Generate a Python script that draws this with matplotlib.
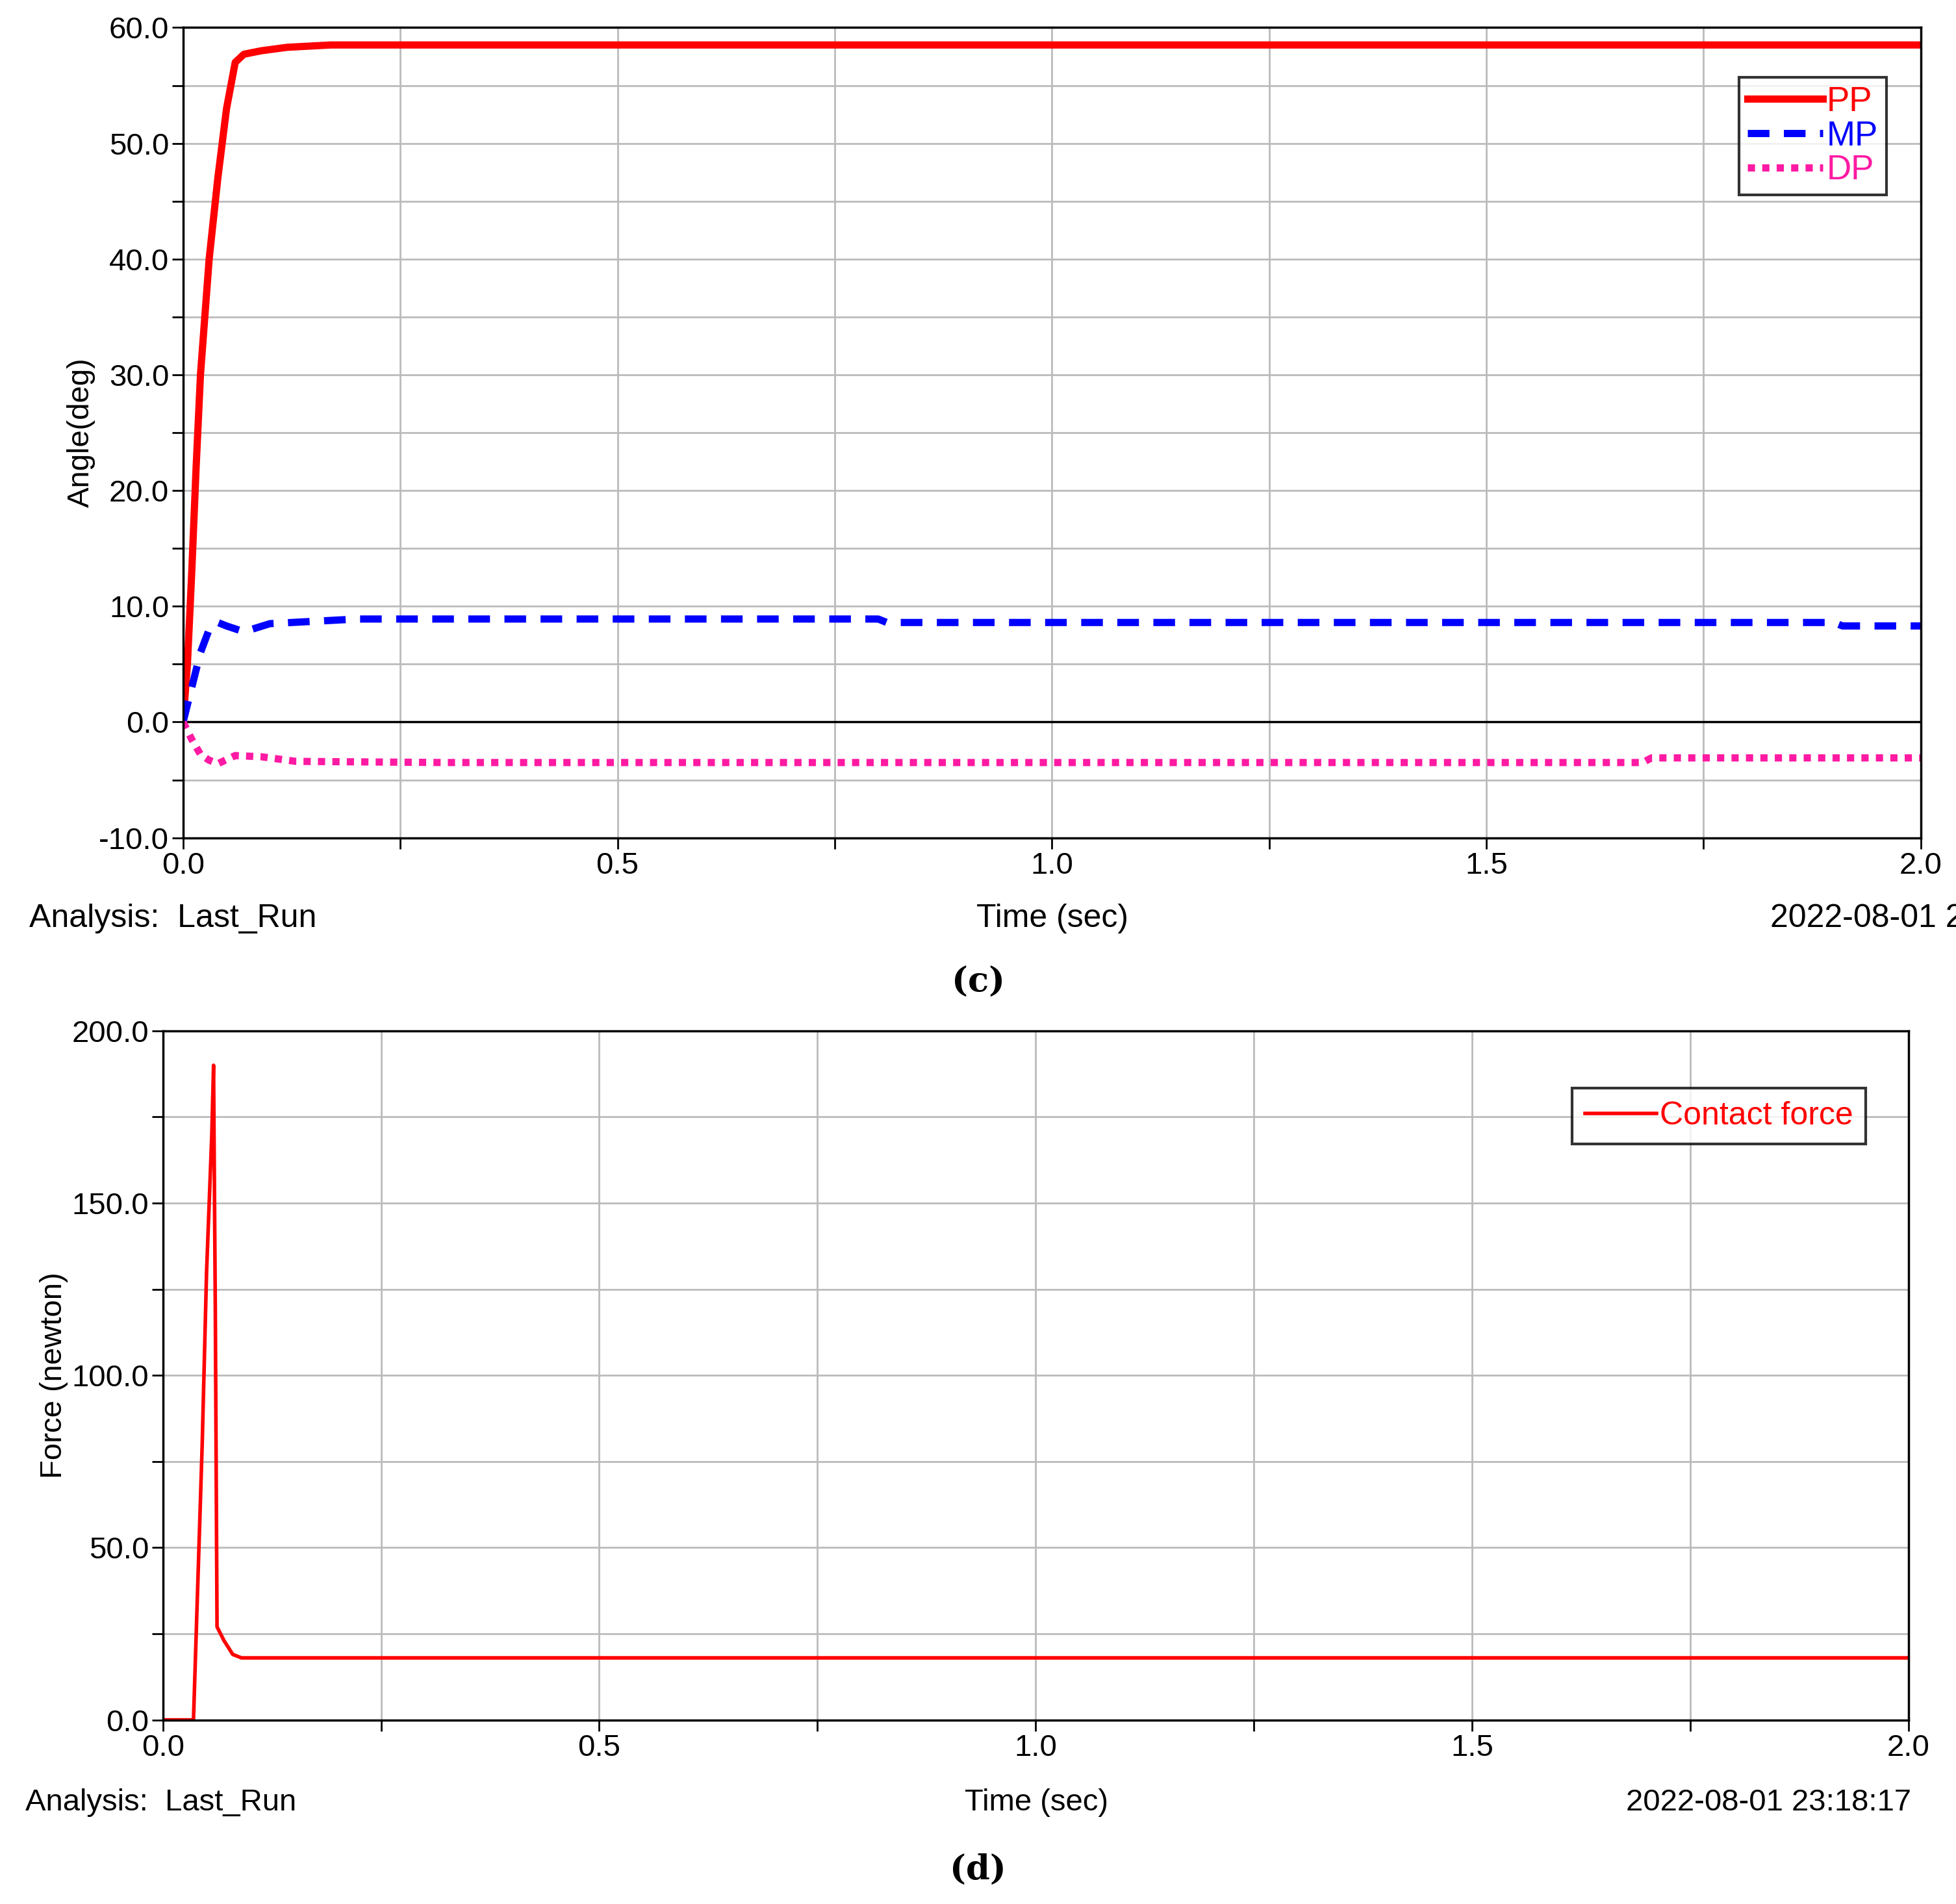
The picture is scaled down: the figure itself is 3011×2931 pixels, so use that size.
import matplotlib
matplotlib.use('Agg')
from matplotlib import pyplot as plt
from matplotlib.ticker import MultipleLocator

# angle curves (c)
pp_t = [0.0, 0.005, 0.01, 0.015, 0.02, 0.03, 0.04, 0.05, 0.06, 0.07, 0.09, 0.12, 0.17, 2.0]
pp_v = [0.0, 5.0, 13.0, 22.0, 30.0, 40.0, 47.0, 53.0, 57.0, 57.7, 58.0, 58.3, 58.5, 58.5]
mp_t = [0.0, 0.01, 0.02, 0.03, 0.04, 0.05, 0.07, 0.1, 0.2, 0.8, 0.81, 1.9, 1.91, 2.0]
mp_v = [0.0, 3.0, 6.0, 8.0, 8.6, 8.3, 7.8, 8.5, 8.9, 8.9, 8.6, 8.6, 8.3, 8.3]
dp_t = [0.0, 0.01, 0.02, 0.03, 0.04, 0.06, 0.09, 0.13, 0.3, 1.68, 1.69, 2.0]
dp_v = [0.0, -1.5, -2.8, -3.3, -3.6, -2.9, -3.0, -3.4, -3.5, -3.5, -3.1, -3.1]

# contact force (d)
cf_t = [0.0, 0.035, 0.04, 0.045, 0.05, 0.053, 0.056, 0.058, 0.06, 0.062, 0.07, 0.08, 0.09, 2.0]
cf_v = [0.0, 0.0, 40.0, 80.0, 130.0, 150.0, 170.0, 190.0, 120.0, 27.0, 23.0, 19.0, 18.0, 18.0]

FS = 34
plt.rcParams['font.family'] = ['Liberation Sans', 'DejaVu Sans']
fig = plt.figure(figsize=(30.11, 29.31), dpi=100)


def style(ax, ymaj, ymin):
    ax.set_xlim(0, 2.0)
    ax.xaxis.set_major_locator(MultipleLocator(0.5))
    ax.xaxis.set_minor_locator(MultipleLocator(0.25))
    ax.yaxis.set_major_locator(MultipleLocator(ymaj))
    ax.yaxis.set_minor_locator(MultipleLocator(ymin))
    ax.xaxis.set_major_formatter(matplotlib.ticker.FormatStrFormatter('%.1f'))
    ax.yaxis.set_major_formatter(matplotlib.ticker.FormatStrFormatter('%.1f'))
    ax.grid(True, which='both', color='#bbbbbb', lw=2)
    ax.tick_params(which='both', labelsize=FS, length=12, width=2, direction='out')
    for s in ax.spines.values():
        s.set_linewidth(2.5)
    ax.set_axisbelow(True)


ax1 = fig.add_axes([0.0936, 0.5600, 0.8884, 0.4255])
style(ax1, 10, 5)
ax1.set_ylim(-10, 60)
ax1.axhline(0, color='black', lw=2.5)
ax1.plot(pp_t, pp_v, color='red', lw=8, label='PP')
ax1.plot(mp_t, mp_v, color='blue', lw=8, ls=(0, (3, 2)), label='MP')
ax1.plot(dp_t, dp_v, color='#ff1aa3', lw=8, ls=(0, (1, 1)), label='DP')
ax1.set_ylabel('Angle(deg)', fontsize=FS)
leg = ax1.legend(loc='upper right', bbox_to_anchor=(0.99, 0.96), fontsize=FS + 4, frameon=True,
                 fancybox=False, edgecolor='black', handlelength=2.2, handletextpad=0.1,
                 labelspacing=0.05, borderpad=0.25)
leg.get_frame().set_linewidth(3)
for t, c in zip(leg.get_texts(), ['red', 'blue', '#ff1aa3']):
    t.set_color(c)
fig.text(0.015, 0.513, 'Analysis:  Last_Run', fontsize=FS + 2)
fig.text(0.538, 0.513, 'Time (sec)', fontsize=FS + 2, ha='center')
fig.text(0.905, 0.513, '2022-08-01 2', fontsize=FS + 2)
fig.text(0.5, 0.479, '(c)', fontsize=FS + 4, ha='center', weight='bold', family='DejaVu Serif')

ax2 = fig.add_axes([0.0833, 0.0967, 0.8923, 0.3619])
style(ax2, 50, 25)
ax2.set_ylim(0, 200)
ax2.plot(cf_t, cf_v, color='red', lw=4, label='Contact force')
ax2.set_ylabel('Force (newton)', fontsize=FS)
leg2 = ax2.legend(loc='upper right', bbox_to_anchor=(0.985, 0.94), fontsize=FS + 2, frameon=True,
                  fancybox=False, edgecolor='black', handlelength=2.2, handletextpad=0.1,
                  borderpad=0.4)
leg2.get_frame().set_linewidth(3)
leg2.get_texts()[0].set_color('red')
fig.text(0.013, 0.049, 'Analysis:  Last_Run', fontsize=FS)
fig.text(0.53, 0.049, 'Time (sec)', fontsize=FS, ha='center')
fig.text(0.977, 0.049, '2022-08-01 23:18:17', fontsize=FS, ha='right')
fig.text(0.5, 0.013, '(d)', fontsize=FS + 4, ha='center', weight='bold', family='DejaVu Serif')

fig.savefig('out.png', dpi=100)
